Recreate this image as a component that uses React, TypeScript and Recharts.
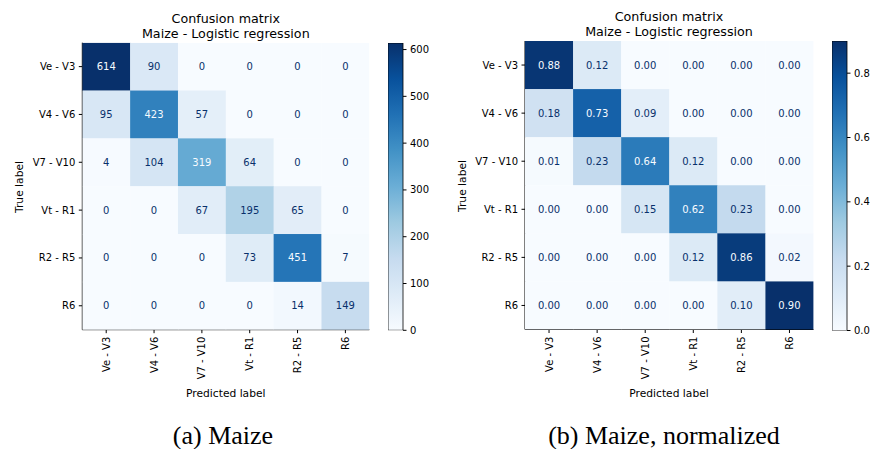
import React from 'react';
import { ScatterChart, Scatter, XAxis, YAxis, BarChart, Bar } from 'recharts';

// class labels (rows = true, columns = predicted)
const classes = ['Ve - V3', 'V4 - V6', 'V7 - V10', 'Vt - R1', 'R2 - R5', 'R6'];
const classIdx = [0, 1, 2, 3, 4, 5];

// raw counts
const counts = [
  [614, 90, 0, 0, 0, 0],
  [95, 423, 57, 0, 0, 0],
  [4, 104, 319, 64, 0, 0],
  [0, 0, 67, 195, 65, 0],
  [0, 0, 0, 73, 451, 7],
  [0, 0, 0, 0, 14, 149],
];

// row-normalized
const normalized = [
  [0.88, 0.12, 0.0, 0.0, 0.0, 0.0],
  [0.18, 0.73, 0.09, 0.0, 0.0, 0.0],
  [0.01, 0.23, 0.64, 0.12, 0.0, 0.0],
  [0.0, 0.0, 0.15, 0.62, 0.23, 0.0],
  [0.0, 0.0, 0.0, 0.12, 0.86, 0.02],
  [0.0, 0.0, 0.0, 0.0, 0.1, 0.9],
];

const countTicks = [0, 100, 200, 300, 400, 500, 600];
const normTicks = [0, 0.2, 0.4, 0.6, 0.8];

// matplotlib "Blues"
const blues = ['#f7fbff', '#deebf7', '#c6dbef', '#9ecae1', '#6baed6', '#4292c6', '#2171b5', '#08519c', '#08306b'];

const FONT = 'DejaVu Sans';

const hex = (h: string) => [1, 3, 5].map((i) => parseInt(h.slice(i, i + 2), 16));
function bluesAt(t: number) {
  const s = Math.min(Math.max(t, 0), 1) * (blues.length - 1);
  const i = Math.min(Math.floor(s), blues.length - 2);
  const f = s - i;
  const a = hex(blues[i]);
  const b = hex(blues[i + 1]);
  return `rgb(${a.map((v, k) => Math.round(v + (b[k] - v) * f)).join(',')})`;
}

const toCells = (m: number[][]) =>
  m.flatMap((row, r) => row.map((value, c) => ({ row: r, col: c, value })));

const XTick = ({ x, y, payload }: any) => (
  <text
    x={x}
    y={y}
    transform={`rotate(-90, ${x}, ${y})`}
    textAnchor="end"
    dominantBaseline="central"
    fontSize={10}
    fontFamily={FONT}
    fill="#000"
  >
    {classes[payload.value]}
  </text>
);

type HeatProps = {
  data: number[][];
  fmt: (v: number) => string;
  left: number;
  top: number;
  plot: number;
  axisW: number;
};

const Heatmap = ({ data, fmt, left, top, plot, axisW }: HeatProps) => {
  const cells = toCells(data);
  const vmax = Math.max(...data.flat());
  const cw = plot / classes.length;
  const width = axisW + plot + 10;
  const height = top + plot + 90;

  const CellShape = (p: any) => {
    const { cx, cy, payload } = p;
    return (
      <g>
        <rect
          x={cx - cw / 2}
          y={cy - cw / 2}
          width={cw + 0.3}
          height={cw + 0.3}
          fill={bluesAt(payload.value / vmax)}
        />
        <text
          x={cx}
          y={cy}
          textAnchor="middle"
          dominantBaseline="central"
          fontSize={10}
          fontFamily={FONT}
          fill={payload.value < vmax / 2 ? blues[8] : blues[0]}
        >
          {fmt(payload.value)}
        </text>
      </g>
    );
  };

  return (
    <div style={{ position: 'absolute', left, top: 0 }}>
      <ScatterChart width={width} height={height} margin={{ top, right: 10, left: 0, bottom: 20 }}>
        <XAxis
          type="number"
          dataKey="col"
          domain={[-0.5, 5.5]}
          ticks={classIdx}
          interval={0}
          allowDataOverflow
          height={70}
          tickSize={3.5}
          tickMargin={3.5}
          tick={<XTick />}
          tickLine={{ stroke: '#000' }}
          axisLine={{ stroke: '#000' }}
        />
        <YAxis
          type="number"
          dataKey="row"
          domain={[-0.5, 5.5]}
          ticks={classIdx}
          interval={0}
          reversed
          allowDataOverflow
          width={axisW}
          tickSize={3.5}
          tickMargin={3.5}
          tickFormatter={(i: number) => classes[i]}
          tick={{ fill: '#000', fontSize: 10, fontFamily: FONT }}
          tickLine={{ stroke: '#000' }}
          axisLine={{ stroke: '#000' }}
        />
        <XAxis
          xAxisId="top"
          orientation="top"
          type="number"
          domain={[-0.5, 5.5]}
          height={0}
          tick={false}
          tickLine={false}
          axisLine={{ stroke: '#000' }}
        />
        <YAxis
          yAxisId="right"
          orientation="right"
          type="number"
          domain={[-0.5, 5.5]}
          width={0}
          tick={false}
          tickLine={false}
          axisLine={{ stroke: '#000' }}
        />
        <Scatter data={cells} shape={CellShape} isAnimationActive={false} />
      </ScatterChart>
    </div>
  );
};

type BarProps = {
  vmax: number;
  ticks: number[];
  fmt: (v: number) => string;
  left: number;
  top: number;
  height: number;
  id: string;
};

const PAD = 8;

const Colorbar = ({ vmax, ticks, fmt, left, top, height, id }: BarProps) => (
  <div style={{ position: 'absolute', left, top: top - PAD }}>
    <BarChart
      width={60}
      height={height + PAD * 2}
      data={[{ name: 'cb', v: vmax }]}
      margin={{ top: PAD, right: 0, left: 0, bottom: PAD }}
      barCategoryGap={0}
    >
      <defs>
        <linearGradient id={id} x1="0" y1="1" x2="0" y2="0">
          {blues.map((c, i) => (
            <stop key={c} offset={i / (blues.length - 1)} stopColor={c} />
          ))}
        </linearGradient>
      </defs>
      <XAxis dataKey="name" hide />
      <YAxis
        orientation="right"
        type="number"
        domain={[0, vmax]}
        ticks={ticks}
        interval={0}
        allowDataOverflow
        width={45}
        tickSize={3.5}
        tickMargin={3.5}
        tickFormatter={fmt}
        tick={{ fill: '#000', fontSize: 10, fontFamily: FONT, textAnchor: 'start' }}
        tickLine={{ stroke: '#000' }}
        axisLine={false}
      />
      <Bar dataKey="v" fill={`url(#${id})`} stroke="#000" strokeWidth={0.8} isAnimationActive={false} />
    </BarChart>
  </div>
);

const Txt = ({ x, y, children, size = 10.7, rotate = false, serif = false }: any) => (
  <div
    style={{
      position: 'absolute',
      left: x,
      top: y,
      transform: `translate(-50%, -50%)${rotate ? ' rotate(-90deg)' : ''}`,
      whiteSpace: 'nowrap',
      fontFamily: serif ? 'Liberation Serif' : FONT,
      fontSize: size,
      lineHeight: serif ? 'normal' : '15px',
      padding: serif ? '2px 4px' : 0,
      textAlign: 'center',
      color: '#000',
    }}
  >
    {children}
  </div>
);

export default function App() {
  const maxCount = Math.max(...counts.flat());
  const maxNorm = Math.max(...normalized.flat());
  return (
    <div
      style={{
        position: 'fixed',
        left: 0,
        top: 0,
        width: 873,
        height: 449,
        overflow: 'hidden',
        background: '#fff',
      }}
    >
      <Heatmap data={counts} fmt={(v) => String(v)} left={0} top={42.7} plot={287} axisW={82.3} />
      <Colorbar vmax={maxCount} ticks={countTicks} fmt={(v) => String(v)} left={388.3} top={42.7} height={287.3} id="cbA" />
      <Txt x={225.8} y={25.5} size={12.7}>
        Confusion matrix
        <br />
        Maize - Logistic regression
      </Txt>
      <Txt x={19} y={186.5} rotate>True label</Txt>
      <Txt x={225.8} y={392.7}>Predicted label</Txt>
      <Txt x={223} y={436} size={26} serif>(a) Maize</Txt>

      <Heatmap data={normalized} fmt={(v) => v.toFixed(2)} left={440} top={41} plot={288.5} axisW={85} />
      <Colorbar vmax={maxNorm} ticks={normTicks} fmt={(v) => v.toFixed(1)} left={832.3} top={40.5} height={289.5} id="cbB" />
      <Txt x={669} y={23.5} size={12.7}>
        Confusion matrix
        <br />
        Maize - Logistic regression
      </Txt>
      <Txt x={461.7} y={185.5} rotate>True label</Txt>
      <Txt x={669} y={392.7}>Predicted label</Txt>
      <Txt x={664} y={436} size={26} serif>(b) Maize, normalized</Txt>
    </div>
  );
}
